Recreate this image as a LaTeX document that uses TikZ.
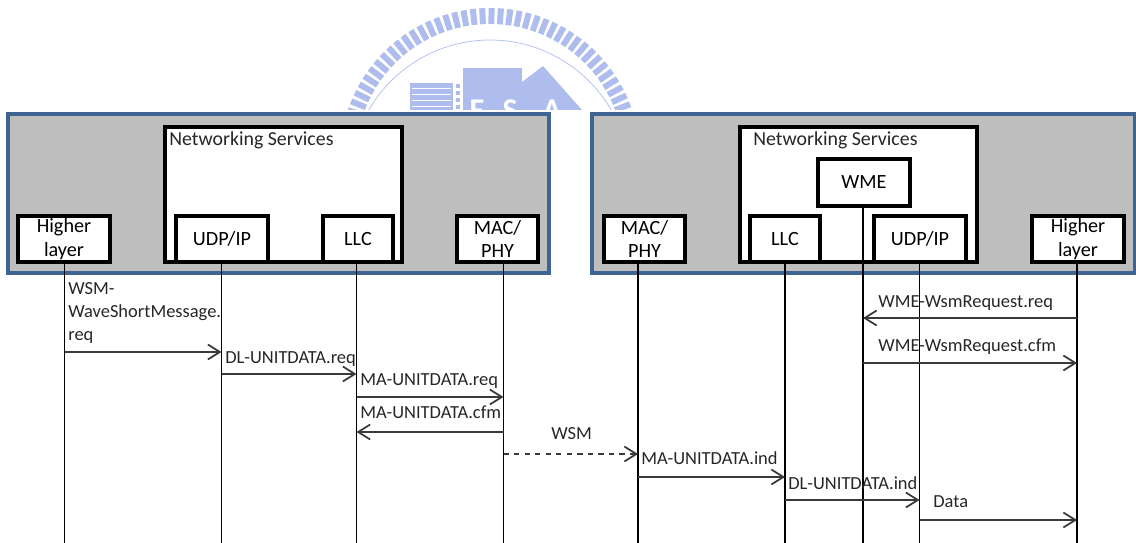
\documentclass[tikz,border=0pt]{standalone}
\usepackage{fontspec}
\setmainfont{Carlito}
\usetikzlibrary{arrows.meta}

\definecolor{panelgray}{HTML}{BEBEBE}
\definecolor{panelblue}{HTML}{3F6492}
\definecolor{logoblue}{HTML}{AEBDEE}
\definecolor{arrowgray}{HTML}{3A3A3A}

\begin{document}
\begin{tikzpicture}[
    x=0.02cm, y=-0.02cm,
    panel/.style={rectangle, draw=panelblue, line width=1.9pt, fill=panelgray, minimum width=10.82cm, minimum height=3.18cm},
    group/.style={rectangle, draw=black, line width=2pt, fill=white, minimum width=4.74cm, minimum height=2.7cm},
    box/.style={rectangle, draw=black, line width=2pt, fill=white, minimum height=0.92cm, inner sep=0pt, align=center, font=\fontsize{11.5}{13.4}\selectfont},
    lifeline/.style={draw=black, line width=0.8pt},
    arrow/.style={-{Straight Barb[length=0.24cm,width=0.3cm]}, draw=arrowgray, line width=1pt},
    msgtext/.style={anchor=west, inner sep=0pt, align=left, font=\fontsize{10.5}{13}\selectfont, text=black!85},
    grouptext/.style={anchor=west, inner sep=0pt, font=\fontsize{11.3}{13}\selectfont, text=black!85},
    logotext/.style={text=white, font=\bfseries\fontsize{18}{18}\selectfont}
]
    \useasboundingbox (0,0) rectangle (1136,543);

    % Logo behind the panels
    \begin{scope}[logoblue]
        \clip (0,0) rectangle (1136,110);
        \foreach \a in {195,198.6,...,345} {
            \draw[shift={(490,158)}, line width=3.4pt] (\a:134) -- (\a:150);
        }
        \draw[shift={(490,180)}, line width=0.4pt] plot[domain=195:345, samples=60] (\x:140);
        \fill (410,83) rectangle (453,110);
        \fill (463,68) rectangle (522,110);
        \fill (522,82) -- (543,66) -- (582,110) -- (522,110) -- cycle;
        \foreach \y in {88,94,100,106} {
            \draw[white, line width=0.5pt] (412,\y) -- (451,\y);
        }
        \draw[dotted, line width=2pt] (458,84) -- (458,110);
        \node[logotext] (logoF) at (477,110) {F};
        \node[logotext] (logoS) at (510,110) {S};
        \node[logotext] (logoA) at (552,110) {A};
    \end{scope}

    % Left panel
    \node[panel] (panelL) at (278.5,193.5) {};
    \node[group] (servicesL) at (283.5,194.5) {};
    \node[grouptext] (servicesLtext) at (169,140) {Networking Services};
    \node[box, minimum width=1.84cm] (higherL) at (64,239) {Higher\\layer};
    \node[box, minimum width=1.84cm] (udpL) at (222,239) {UDP/IP};
    \node[box, minimum width=1.4cm] (llcL) at (358,239) {LLC};
    \node[box, minimum width=1.62cm] (macL) at (497.5,239) {MAC/\\PHY};

    % Right panel
    \node[panel, minimum width=10.86cm] (panelR) at (863.5,193.5) {};
    \node[group] (servicesR) at (858.5,194.5) {};
    \node[grouptext] (servicesRtext) at (753,140) {Networking Services};
    \node[box, minimum width=1.84cm, minimum height=0.94cm] (wme) at (864,182.5) {WME};
    \node[box, minimum width=1.62cm] (macR) at (644.5,239) {MAC/\\PHY};
    \node[box, minimum width=1.4cm] (llcR) at (785,239) {LLC};
    \node[box, minimum width=1.84cm] (udpR) at (920,239) {UDP/IP};
    \node[box, minimum width=1.84cm] (higherR) at (1078,239) {Higher\\layer};

    % Lifeline ends
    \coordinate (higherLend) at (64.5,543);
    \coordinate (udpLend) at (221.5,543);
    \coordinate (llcLend) at (356.5,543);
    \coordinate (macLend) at (503.5,543);
    \coordinate (macRend) at (638,543);
    \coordinate (llcRend) at (785,543);
    \coordinate (wmeend) at (863,543);
    \coordinate (udpRend) at (919.5,543);
    \coordinate (higherRend) at (1077,543);

    % Lifelines
    \draw[lifeline] (higherL.south -| higherLend) -- (higherLend);
    \draw[lifeline] (udpL.south -| udpLend) -- (udpLend);
    \draw[lifeline] (llcL.south -| llcLend) -- (llcLend);
    \draw[lifeline] (macL.south -| macLend) -- (macLend);
    \draw[lifeline] (macR.south -| macRend) -- (macRend);
    \draw[lifeline] (llcR.south -| llcRend) -- (llcRend);
    \draw[lifeline] (wme.south -| wmeend) -- (wmeend);
    \draw[lifeline] (udpR.south -| udpRend) -- (udpRend);
    \draw[lifeline] (higherR.south -| higherRend) -- (higherRend);

    % Message heights
    \coordinate (wsmreq) at (0,352);
    \coordinate (dlreq) at (0,374);
    \coordinate (mareq) at (0,397);
    \coordinate (macfm) at (0,432);
    \coordinate (wsm) at (0,454);
    \coordinate (maind) at (0,477);
    \coordinate (dlind) at (0,500);
    \coordinate (data) at (0,520);
    \coordinate (wmereq) at (0,318);
    \coordinate (wmecfm) at (0,363);

    % Arrows
    \draw[arrow] (higherLend |- wsmreq) -- (udpLend |- wsmreq);
    \draw[arrow] (udpLend |- dlreq) -- (llcLend |- dlreq);
    \draw[arrow] (llcLend |- mareq) -- (macLend |- mareq);
    \draw[arrow] (macLend |- macfm) -- (llcLend |- macfm);
    \draw[arrow, dashed] (macLend |- wsm) -- (macRend |- wsm);
    \draw[arrow] (macRend |- maind) -- (llcRend |- maind);
    \draw[arrow] (llcRend |- dlind) -- (udpRend |- dlind);
    \draw[arrow] (udpRend |- data) -- (higherRend |- data);
    \draw[arrow] (higherRend |- wmereq) -- (wmeend |- wmereq);
    \draw[arrow] (wmeend |- wmecfm) -- (higherRend |- wmecfm);

    % Message labels
    \node[msgtext] (wsmreqtext) at (68,313) {WSM-\\WaveShortMessage.\\req};
    \node[msgtext] (dlreqtext) at (225,359) {DL-UNITDATA.req};
    \node[msgtext] (mareqtext) at (360,381) {MA-UNITDATA.req};
    \node[msgtext] (macfmtext) at (360,412) {MA-UNITDATA.cfm};
    \node[msgtext] (wsmtext) at (551,434) {WSM};
    \node[msgtext] (maindtext) at (641,458) {MA-UNITDATA.ind};
    \node[msgtext] (dlindtext) at (788,483) {DL-UNITDATA.ind};
    \node[msgtext] (datatext) at (933,502) {Data};
    \node[msgtext] (wmereqtext) at (878,303) {WME-WsmRequest.req};
    \node[msgtext] (wmecfmtext) at (878,347) {WME-WsmRequest.cfm};
\end{tikzpicture}
\end{document}
